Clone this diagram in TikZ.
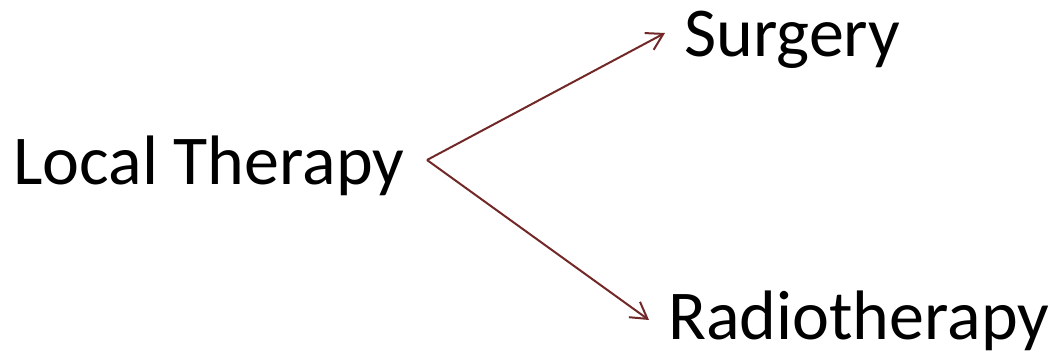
\documentclass[tikz,border=0pt]{standalone}
\usepackage{fontspec}
\setmainfont{Carlito}
\usetikzlibrary{arrows.meta}
\definecolor{arrowred}{RGB}{115,40,40}
\tikzset{
  lbl/.style={anchor=base west, inner sep=0pt, font=\fontsize{70}{82}\selectfont},
  branch/.style={draw=arrowred, line width=2pt, -{Straight Barb[length=16pt,width=19pt,line width=2pt]}}
}
\begin{document}
\begin{tikzpicture}[x=1pt,y=1pt]
\useasboundingbox (0,0) rectangle (1050,358);
\node[lbl] (local) at (13,173) {Local Therapy};
\node[lbl] (surgery) at (684,301) {Surgery};
\node[lbl] (radio) at (668,18) {Radiotherapy};
\coordinate (fork) at (427,198);
\coordinate (stip) at (665,325);
\coordinate (rtip) at (649,38);
\draw[branch] (fork) -- (stip);
\draw[branch] (fork) -- (rtip);
\end{tikzpicture}
\end{document}
